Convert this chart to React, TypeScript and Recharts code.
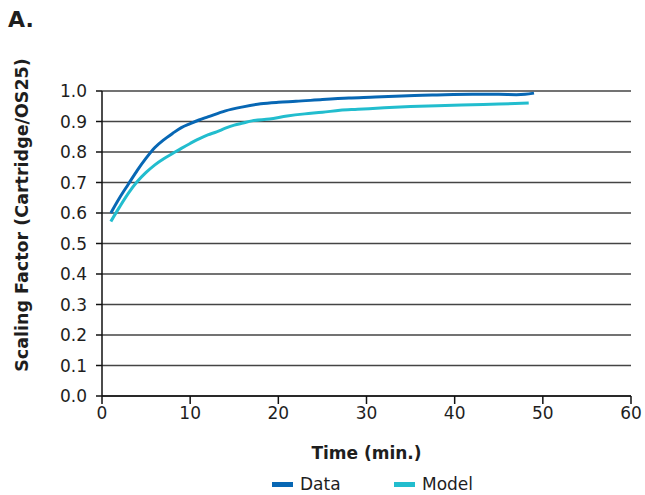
import { LineChart, Line, XAxis, YAxis, CartesianGrid, Label } from 'recharts';

const dataTime = [1, 2, 3, 4, 5, 6, 7, 8, 9, 10, 11, 12, 14, 16, 18, 20, 22, 25, 28, 31, 34, 38, 42, 45, 47, 48, 49];
const dataValues = [0.6, 0.65, 0.695, 0.74, 0.78, 0.815, 0.84, 0.861, 0.88, 0.893, 0.905, 0.915, 0.935, 0.948, 0.958, 0.963, 0.966, 0.972, 0.977, 0.98, 0.984, 0.987, 0.989, 0.989, 0.988, 0.989, 0.993];

const modelTime = [1, 2, 3, 4, 5, 6, 7, 8, 9, 10, 11, 12, 13, 14, 15, 16, 17, 19, 21, 23, 25, 27, 29, 32, 35, 38, 42, 45, 48.4];
const modelValues = [0.572, 0.62, 0.665, 0.703, 0.733, 0.758, 0.778, 0.795, 0.812, 0.828, 0.843, 0.856, 0.866, 0.878, 0.888, 0.895, 0.902, 0.908, 0.918, 0.925, 0.93, 0.937, 0.94, 0.945, 0.949, 0.952, 0.955, 0.957, 0.961];

const xTicks = [0, 10, 20, 30, 40, 50, 60];
const yTicks = [0, 0.1, 0.2, 0.3, 0.4, 0.5, 0.6, 0.7, 0.8, 0.9, 1.0];

const series = [
  { name: 'Data', color: '#0767b4', time: dataTime, values: dataValues },
  { name: 'Model', color: '#22bdce', time: modelTime, values: modelValues },
];

const FONT = '"DejaVu Sans", Verdana, sans-serif';
const TEXT = '#1e1e1e';

export default function App() {
  return (
    <div style={{ position: 'absolute', left: 0, top: 0, width: 645, height: 495, fontFamily: FONT, background: '#fff' }}>
      <div style={{ position: 'absolute', left: 8, top: 7, fontSize: 22, fontWeight: 'bold', color: TEXT }}>A.</div>
      <LineChart width={645} height={495} margin={{ top: 91, right: 14, left: 0, bottom: 29 }}>
        <CartesianGrid vertical={false} stroke="#444" strokeWidth={1.6} />
        <XAxis
          type="number"
          dataKey="t"
          domain={[0, 60]}
          ticks={xTicks}
          height={70}
          tickSize={8}
          tickMargin={3}
          stroke="#111"
          strokeWidth={1.5}
          tick={{ fill: TEXT, fontSize: 17, fontFamily: FONT }}
          allowDuplicatedCategory={false}
        >
          <Label
            value="Time (min.)"
            position="insideBottom"
            offset={7}
            style={{ fill: TEXT, fontSize: 17, fontWeight: 'bold', fontFamily: FONT }}
          />
        </XAxis>
        <YAxis
          type="number"
          domain={[0, 1]}
          ticks={yTicks}
          width={102}
          tickSize={6}
          tickMargin={9}
          stroke="#111"
          strokeWidth={1.5}
          tickFormatter={(v: number) => v.toFixed(1)}
          tick={{ fill: TEXT, fontSize: 17, fontFamily: FONT }}
          label={{
            content: () => (
              <text
                transform="translate(22,215) rotate(-90)"
                textAnchor="middle"
                dominantBaseline="central"
                style={{ fill: TEXT, fontSize: 17.5, fontWeight: 'bold', fontFamily: FONT }}
              >
                Scaling Factor (Cartridge/OS25)
              </text>
            ),
          }}
        />
        {series.map((s) => (
          <Line
            key={s.name}
            data={s.time.map((t, i) => ({ t, v: s.values[i] }))}
            dataKey="v"
            name={s.name}
            type="monotone"
            stroke={s.color}
            strokeWidth={3}
            dot={false}
            isAnimationActive={false}
          />
        ))}
      </LineChart>
      <div style={{ position: 'absolute', left: 272, top: 474, display: 'flex', fontSize: 17, color: TEXT }}>
        {series.map((s) => (
          <div key={s.name} style={{ display: 'flex', alignItems: 'center', width: 122 }}>
            <div style={{ width: 21, height: 5, background: s.color, marginRight: 7 }} />
            <span>{s.name}</span>
          </div>
        ))}
      </div>
    </div>
  );
}
